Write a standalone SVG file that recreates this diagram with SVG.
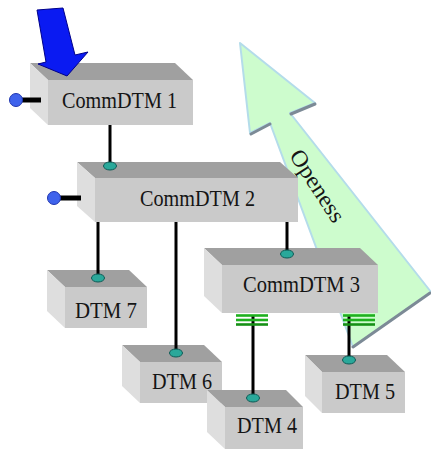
<svg xmlns="http://www.w3.org/2000/svg" width="431" height="449" viewBox="0 0 431 449">
<style>
.top{fill:#a0a0a0}
.front{fill:#cacaca}
.side{fill:#dedede}
.lbl{font-family:"Liberation Serif","Times New Roman",serif;font-size:23px;fill:#151515}
.wire{stroke:#000;stroke-width:3;fill:none}
.term{fill:#2aa89a;stroke:#0d5a55;stroke-width:1}
.port{fill:#3f63ec;stroke:#2036b0;stroke-width:1}
.stub{stroke:#000;stroke-width:5}
.bus{stroke:#1eb01e;stroke-width:2.6}
</style>
<rect width="431" height="449" fill="#fff"/>
<g id="openess">
<polygon points="240,43 315,103 290,113 431,292 353,347 270,123 250,133" fill="#cdfccd" stroke="#b4dcea" stroke-width="2" stroke-linejoin="round"/>
<g stroke="#7c8a96" stroke-width="3" stroke-linecap="round">
<line x1="315" y1="104" x2="291" y2="114"/>
<line x1="270" y1="124" x2="251" y2="134"/>
<line x1="430" y1="293" x2="353" y2="347"/>
</g>
<text class="lbl" text-anchor="middle" textLength="82" lengthAdjust="spacingAndGlyphs" transform="translate(311,190) rotate(57)">Openess</text>
</g>
<g id="commdtm1">
<polygon class="top" points="30,63 175,63 193,80 48,80"/>
<polygon class="side" points="30,63 48,80 48,125 30,108"/>
<rect class="front" x="48" y="80" width="145" height="45"/>
<text class="lbl" x="62" y="108" textLength="115" lengthAdjust="spacingAndGlyphs">CommDTM 1</text>
<line class="stub" x1="18" y1="100" x2="41" y2="100"/>
<circle class="port" cx="16" cy="100" r="6.5"/>
</g>
<g id="commdtm2">
<polygon class="top" points="77,162 280,162 298,178 95,178"/>
<polygon class="side" points="77,162 95,178 95,222 77,206"/>
<rect class="front" x="95" y="178" width="203" height="44"/>
<text class="lbl" x="140" y="206" textLength="115" lengthAdjust="spacingAndGlyphs">CommDTM 2</text>
<line class="stub" x1="58" y1="198" x2="81" y2="198"/>
<circle class="port" cx="54" cy="198" r="6.5"/>
</g>
<g id="commdtm3">
<polygon class="top" points="204,248 360,248 378,265 222,265"/>
<polygon class="side" points="204,248 222,265 222,313 204,296"/>
<rect class="front" x="222" y="265" width="156" height="48"/>
<text class="lbl" x="243" y="292" textLength="117" lengthAdjust="spacingAndGlyphs">CommDTM 3</text>
</g>
<g id="dtm7">
<polygon class="top" points="47,270 129,270 147,287 65,287"/>
<polygon class="side" points="47,270 65,287 65,328 47,311"/>
<rect class="front" x="65" y="287" width="82" height="41"/>
<text class="lbl" x="75" y="318" textLength="62" lengthAdjust="spacingAndGlyphs">DTM 7</text>
</g>
<g id="dtm6">
<polygon class="top" points="122,345 204,345 222,362 140,362"/>
<polygon class="side" points="122,345 140,362 140,403 122,386"/>
<rect class="front" x="140" y="362" width="82" height="41"/>
<text class="lbl" x="152" y="389" textLength="60" lengthAdjust="spacingAndGlyphs">DTM 6</text>
</g>
<g id="dtm5">
<polygon class="top" points="305,355 387,355 405,372 322,372"/>
<polygon class="side" points="305,355 322,372 322,413 305,396"/>
<rect class="front" x="322" y="372" width="83" height="41"/>
<text class="lbl" x="335" y="399" textLength="60" lengthAdjust="spacingAndGlyphs">DTM 5</text>
</g>
<g id="dtm4">
<polygon class="top" points="207,390 286,390 303,407 225,407"/>
<polygon class="side" points="207,390 225,407 225,449 207,432"/>
<rect class="front" x="225" y="407" width="78" height="42"/>
<text class="lbl" x="237" y="433" textLength="60" lengthAdjust="spacingAndGlyphs">DTM 4</text>
</g>
<g id="connectors">
<line class="wire" x1="110" y1="125" x2="110" y2="166"/>
<line class="wire" x1="98" y1="222" x2="98" y2="278"/>
<line class="wire" x1="176" y1="222" x2="176" y2="353"/>
<line class="wire" x1="287" y1="222" x2="287" y2="254"/>
<line class="wire" x1="253" y1="316" x2="253" y2="398"/>
<line class="wire" x1="349" y1="316" x2="349" y2="360"/>
<g class="bus">
<line x1="236" y1="315.5" x2="268" y2="315.5"/>
<line x1="236" y1="320" x2="268" y2="320"/>
<line x1="236" y1="324.5" x2="268" y2="324.5" stroke="#159015"/>
<line x1="343" y1="315.5" x2="375" y2="315.5"/>
<line x1="343" y1="320" x2="375" y2="320"/>
<line x1="343" y1="324.5" x2="375" y2="324.5" stroke="#159015"/>
</g>
<ellipse class="term" cx="110" cy="166" rx="6.5" ry="4"/>
<ellipse class="term" cx="98" cy="278" rx="6.5" ry="4"/>
<ellipse class="term" cx="176" cy="353" rx="6.5" ry="4"/>
<ellipse class="term" cx="287" cy="254" rx="6.5" ry="4"/>
<ellipse class="term" cx="253" cy="398" rx="6.5" ry="4"/>
<ellipse class="term" cx="349" cy="360" rx="6.5" ry="4"/>
</g>
<g id="input-arrow">
<polygon points="37,10 63,8 75,55 88,52 67,76 38,64 46,62" fill="#0a1af2" stroke="#00008a" stroke-width="1" stroke-linejoin="round"/>
</g>
</svg>
